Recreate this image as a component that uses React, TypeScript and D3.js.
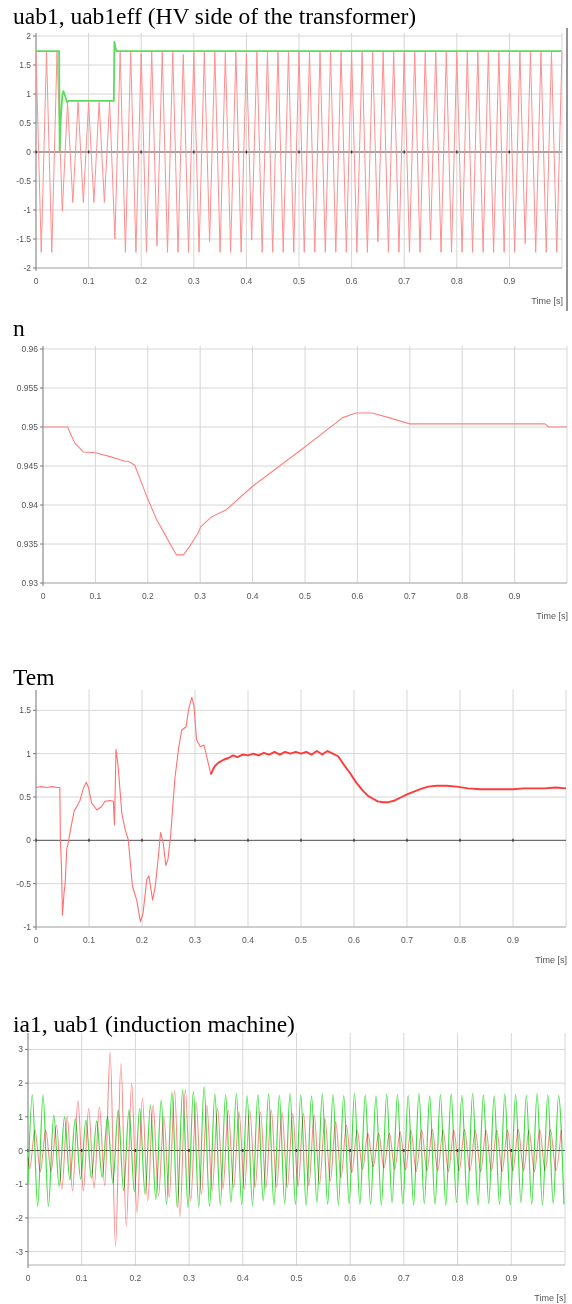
import React from 'react';
import * as d3 from 'd3';

// shared time axis
const timeTicks = [0, 0.1, 0.2, 0.3, 0.4, 0.5, 0.6, 0.7, 0.8, 0.9];
const gridTimes = [0.1, 0.2, 0.3, 0.4, 0.5, 0.6, 0.7, 0.8, 0.9, 1.0];

// panel 1: uab1 (peaks every half period, starting at t = 0) and uab1eff
const hvTicks = [-2, -1.5, -1, -0.5, 0, 0.5, 1, 1.5, 2];
const hvPeakStep = 0.01;
const uab1Peaks = [
  1.72, -1.73, 1.72, -1.73, 1.72,
  -1.02, 0.86, -0.87, 0.86, -0.87, 0.86, -0.87, 0.86, -0.87, 0.87, -1.5,
  1.72, -1.73, 1.72, -1.73, 1.7, -1.73, 1.72, -1.62, 1.72, -1.73,
  1.72, -1.73, 1.68, -1.73, 1.72, -1.73, 1.72, -1.55, 1.72, -1.73,
  1.72, -1.73, 1.72, -1.73, 1.7, -1.52, 1.72, -1.73, 1.72, -1.73,
  1.72, -1.73, 1.72, -1.73, 1.72, -1.73, 1.72, -1.73, 1.72, -1.73,
  1.72, -1.73, 1.72, -1.73, 1.72, -1.73, 1.72, -1.73, 1.72, -1.55,
  1.72, -1.73, 1.72, -1.73, 1.72, -1.73, 1.72, -1.73, 1.72, -1.52,
  1.72, -1.73, 1.72, -1.73, 1.72, -1.73, 1.72, -1.73, 1.72, -1.73,
  1.72, -1.73, 1.72, -1.73, 1.72, -1.73, 1.72, -1.58, 1.72, -1.73,
  1.72, -1.73, 1.72, -1.73, 1.72,
];
const uab1effTimes = [0, 0.044, 0.045, 0.047, 0.05, 0.052, 0.056, 0.059, 0.062, 0.148, 0.149, 0.151, 0.153, 1.0];
const uab1effValues = [1.74, 1.74, 0.02, 0.55, 0.98, 1.05, 0.95, 0.86, 0.88, 0.88, 1.9, 1.8, 1.74, 1.74];

// panel 2: n
const speedTicks = [0.93, 0.935, 0.94, 0.945, 0.95, 0.955, 0.96];
const speedTimes = [
  0, 0.047, 0.052, 0.061, 0.077, 0.1, 0.128, 0.156, 0.163, 0.175, 0.198, 0.217, 0.233,
  0.245, 0.255, 0.268, 0.28, 0.296, 0.301, 0.322, 0.35, 0.4, 0.499, 0.572, 0.597,
  0.628, 0.66, 0.7, 0.958, 0.965, 1.0,
];
const speedValues = [
  0.95, 0.95, 0.9492, 0.9479, 0.9468, 0.9467, 0.9462, 0.9456, 0.9456, 0.9451, 0.9411, 0.9381, 0.9362,
  0.9347, 0.9336, 0.9336, 0.9347, 0.9364, 0.9372, 0.9385, 0.9394, 0.9424, 0.9474, 0.9512, 0.9518,
  0.9518, 0.9512, 0.9504, 0.9504, 0.95, 0.95,
];

// panel 3: Tem
const temTicks = [-1, -0.5, 0, 0.5, 1, 1.5];
const temTimes = [
  0, 0.01, 0.02, 0.03, 0.04, 0.045, 0.046, 0.048, 0.05, 0.053, 0.055, 0.058, 0.061, 0.066,
  0.072, 0.077, 0.083, 0.09, 0.095, 0.099, 0.105, 0.115, 0.124, 0.13, 0.14, 0.146, 0.148,
  0.151, 0.155, 0.162, 0.168, 0.174, 0.182, 0.19, 0.197, 0.202, 0.209, 0.213, 0.22, 0.225,
  0.231, 0.235, 0.24, 0.245, 0.249, 0.254, 0.262, 0.269, 0.275, 0.283, 0.288, 0.294, 0.298,
  0.303, 0.31, 0.317, 0.325, 0.33,
];
const temValues = [
  0.61, 0.62, 0.61, 0.62, 0.61, 0.61, 0.0, -0.3, -0.86, -0.6, -0.5, -0.1, -0.02, 0.15,
  0.34, 0.39, 0.46, 0.61, 0.67, 0.61, 0.43, 0.35, 0.39, 0.45, 0.46, 0.45, 0.18,
  1.05, 0.85, 0.31, 0.13, 0.01, -0.53, -0.69, -0.94, -0.84, -0.45, -0.41, -0.69, -0.53,
  -0.18, 0.09, -0.03, -0.29, -0.22, 0.05, 0.71, 1.06, 1.27, 1.31, 1.51, 1.65, 1.55,
  1.16, 1.08, 1.1, 0.89, 0.76,
];
const temSteadyTimes = [
  0.33, 0.334, 0.338, 0.345, 0.354, 0.363, 0.372, 0.38, 0.39, 0.4, 0.41, 0.42, 0.43, 0.44,
  0.45, 0.46, 0.47, 0.48, 0.49, 0.5, 0.51, 0.52, 0.53, 0.54, 0.55, 0.56, 0.57, 0.58, 0.592,
  0.605, 0.617, 0.627, 0.636, 0.645, 0.655, 0.665, 0.677, 0.69, 0.7, 0.712, 0.725, 0.74,
  0.756, 0.775, 0.794, 0.815, 0.838, 0.86, 0.88, 0.9, 0.92, 0.94, 0.96, 0.98, 1.0,
];
const temSteadyValues = [
  0.76, 0.82, 0.86, 0.9, 0.93, 0.95, 0.98, 0.96, 0.99, 0.98, 1.0, 0.98, 1.01, 0.99,
  1.02, 0.99, 1.02, 1.0, 1.02, 1.0, 1.02, 0.99, 1.03, 0.99, 1.03, 1.0, 0.97, 0.88, 0.78,
  0.66, 0.57, 0.51, 0.48, 0.45, 0.44, 0.44, 0.46, 0.5, 0.53, 0.56, 0.59, 0.62,
  0.63, 0.63, 0.62, 0.6, 0.59, 0.59, 0.59, 0.59, 0.6, 0.6, 0.6, 0.61, 0.6,
];

// panel 4: ia1 and uab1 at the machine (peaks every half period)
const machineTicks = [-3, -2, -1, 0, 1, 2, 3];
const machinePeakStep = 0.01;
const uabMachineStart = -1.0;
const uabMachineOffset = 0.008;
const uabMachinePeaks = [
  1.65, -1.66, 1.65, -1.66,
  1.05, -1.07, 1.0, -0.87, 0.95, -0.85, 0.9, -0.82, 0.88, -0.8, 1.0, -0.97,
  1.2, -1.2, 1.2, -1.22, 1.25, -1.3, 1.35, -1.45, 1.5, -1.6, 1.74, -1.7, 1.8, -1.7, 1.75, -1.68, 1.9, -1.66,
  1.68, -1.62, 1.65, -1.55, 1.7, -1.6, 1.62, -1.64, 1.66, -1.5, 1.68, -1.62, 1.64, -1.58, 1.7, -1.6,
  1.65, -1.63, 1.62, -1.55, 1.68, -1.6, 1.66, -1.62, 1.63, -1.58, 1.7, -1.6, 1.65, -1.6, 1.62, -1.62,
  1.68, -1.55, 1.66, -1.6, 1.64, -1.62, 1.7, -1.58, 1.62, -1.6, 1.66, -1.62, 1.68, -1.55, 1.64, -1.6,
  1.7, -1.62, 1.65, -1.58, 1.62, -1.6, 1.68, -1.62, 1.66, -1.55, 1.64, -1.6, 1.7, -1.62, 1.65, -1.58,
  1.63, -1.6,
];
const ia1Start = -0.2;
const ia1Offset = 0.003;
const ia1Peaks = [
  -0.55, 0.6, -0.62, 0.6, -0.62,
  0.75, -1.15, 1.0, -1.2, 1.49, -1.2, 1.25, -1.12, 1.3, -1.05,
  2.92, -2.85, 2.58, -2.25, 2.0, -1.85, 1.55, -1.5, 1.35, -1.35, 1.0, -1.4, 1.77, -1.96, 1.82, -1.5,
  1.45, -1.3, 1.35, -1.2, 1.25, -1.15, 1.2, -1.1, 1.15, -1.15, 1.2, -1.1, 1.15, -1.12, 1.2,
  -1.1, 1.15, -1.1, 1.1, -1.08, 1.1, -1.05, 1.05, -1.0, 0.95,
  -0.9, 0.85, -0.8, 0.75, -0.65, 0.6, -0.55, 0.5, -0.48, 0.5, -0.52, 0.5, -0.55, 0.55,
  -0.58, 0.6, -0.62, 0.6, -0.6, 0.62, -0.6, 0.6, -0.62, 0.6, -0.6, 0.62, -0.6, 0.6, -0.62,
  0.6, -0.6, 0.6, -0.62, 0.6, -0.6, 0.62, -0.6, 0.6, -0.62, 0.6, -0.6, 0.62, -0.6, 0.6,
];

type Pt = [number, number];
type Series = { points: Pt[]; color: string; width: number; curve?: d3.CurveFactory; blend?: boolean };

const zip = (ts: number[], vs: number[]): Pt[] => ts.map((t, i) => [t, vs[i]]);
const peaksToPoints = (peaks: number[], offset: number, step: number, start?: number): Pt[] => {
  const pts: Pt[] = peaks.map((v, i) => [offset + i * step, v]);
  return start === undefined ? pts : [[0, start], ...pts];
};

const labelFont = 'Liberation Sans, Arial, sans-serif';

function Panel(props: {
  title: string;
  titleY: number;
  left: number;
  right: number;
  top: number;
  bottom: number;
  yDomain: [number, number];
  yTicks: number[];
  zeroLine: boolean;
  series: Series[];
}) {
  const { title, titleY, left, right, top, bottom, yDomain, yTicks, zeroLine, series } = props;
  const x = d3.scaleLinear().domain([0, 1]).range([left, right]);
  const y = d3.scaleLinear().domain(yDomain).range([bottom, top]);
  const fmt = (v: number) => String(+v.toFixed(4));

  return (
    <g>
      <text x={13} y={titleY} fontFamily="Liberation Serif, Times New Roman, serif" fontSize={23.5} fill="#000">
        {title}
      </text>
      {yTicks.map((v) => (
        <line key={'h' + v} x1={left} x2={right} y1={y(v)} y2={y(v)} stroke="#d6d6d6" strokeWidth={1} />
      ))}
      {gridTimes.map((t) => (
        <line key={'v' + t} x1={x(t)} x2={x(t)} y1={top - 3} y2={bottom} stroke="#d6d6d6" strokeWidth={1} />
      ))}
      <line x1={left} x2={right} y1={bottom} y2={bottom} stroke="#b0b0b0" strokeWidth={1} />
      <line x1={left} x2={left} y1={top - 3} y2={bottom + 3} stroke="#8c8c8c" strokeWidth={1.2} />
      {zeroLine && (
        <g>
          <line x1={left} x2={right} y1={y(0)} y2={y(0)} stroke="#5a5a5a" strokeWidth={1} />
          {timeTicks.map((t) => (
            <line key={'z' + t} x1={x(t)} x2={x(t)} y1={y(0) - 1.5} y2={y(0) + 1.5} stroke="#333" strokeWidth={1.3} />
          ))}
        </g>
      )}
      {yTicks.map((v) => (
        <g key={'yl' + v}>
          <line x1={left - 3} x2={left} y1={y(v)} y2={y(v)} stroke="#777" />
          <text x={left - 5} y={y(v) + 3} textAnchor="end" fontFamily={labelFont} fontSize={8.5} fill="#555">
            {fmt(v)}
          </text>
        </g>
      ))}
      {timeTicks.map((t) => (
        <text key={'xl' + t} x={x(t)} y={bottom + 16} textAnchor="middle" fontFamily={labelFont} fontSize={8.5} fill="#555">
          {fmt(t)}
        </text>
      ))}
      <text x={right + 1} y={bottom + 36} textAnchor="end" fontFamily={labelFont} fontSize={9} fill="#555">
        Time [s]
      </text>
      {series.map((s, i) => {
        const line = d3
          .line<Pt>()
          .x((d) => x(d[0]))
          .y((d) => y(d[1]))
          .curve(s.curve || d3.curveLinear);
        return (
          <path
            key={i}
            d={line(s.points) || ''}
            fill="none"
            stroke={s.color}
            strokeWidth={s.width}
            strokeLinejoin="round"
            style={s.blend ? { mixBlendMode: 'multiply' } : undefined}
          />
        );
      })}
    </g>
  );
}

export default function App() {
  const uab1 = peaksToPoints(uab1Peaks, 0, hvPeakStep);
  const uabMachine = peaksToPoints(uabMachinePeaks, uabMachineOffset, machinePeakStep, uabMachineStart);
  const ia1 = peaksToPoints(ia1Peaks, ia1Offset, machinePeakStep, ia1Start);

  return (
    <div style={{ position: 'absolute', left: 0, top: 0 }}>
      <svg width={572} height={1304} style={{ display: 'block', background: '#fff' }}>
        <Panel
          title="uab1, uab1eff (HV side of the transformer)"
          titleY={24}
          left={36}
          right={562}
          top={36}
          bottom={268}
          yDomain={[-2, 2]}
          yTicks={hvTicks}
          zeroLine
          series={[
            { points: uab1, color: '#ff8f8f', width: 1 },
            { points: zip(uab1effTimes, uab1effValues), color: '#5cdc5c', width: 1.8 },
          ]}
        />
        <line x1={567} x2={567} y1={28} y2={311} stroke="#707070" strokeWidth={1.5} />
        <Panel
          title="n"
          titleY={336}
          left={43}
          right={567}
          top={349}
          bottom={583}
          yDomain={[0.93, 0.96]}
          yTicks={speedTicks}
          zeroLine={false}
          series={[{ points: zip(speedTimes, speedValues), color: '#ff8080', width: 1.1 }]}
        />
        <Panel
          title="Tem"
          titleY={685}
          left={36}
          right={566}
          top={693}
          bottom={927}
          yDomain={[-1, 1.7]}
          yTicks={temTicks}
          zeroLine
          series={[
            { points: zip(temTimes, temValues), color: '#ff7070', width: 1.1 },
            { points: zip(temSteadyTimes, temSteadyValues), color: '#ff3a3a', width: 1.9 },
          ]}
        />
        <Panel
          title="ia1, uab1 (induction machine)"
          titleY={1032}
          left={28}
          right={565}
          top={1036}
          bottom={1265}
          yDomain={[-3.4, 3.4]}
          yTicks={machineTicks}
          zeroLine
          series={[
            { points: uabMachine, color: '#3fdf3f', width: 1.2, curve: d3.curveMonotoneX },
            { points: ia1, color: '#ff8a8a', width: 1.1, curve: d3.curveMonotoneX, blend: true },
          ]}
        />
      </svg>
    </div>
  );
}
